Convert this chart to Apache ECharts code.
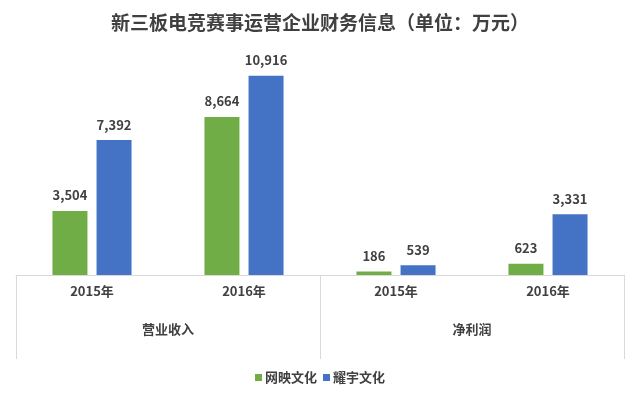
<!DOCTYPE html>
<html>
<head>
<meta charset="utf-8">
<script src="https://cdn.jsdelivr.net/npm/echarts@6/dist/echarts.min.js"></script>
<style>
  html, body { margin: 0; padding: 0; background: #fff; }
  #chart { width: 640px; height: 399px; }
</style>
</head>
<body>
<div id="chart"></div>
<script>
// Financials of NEEQ esports event operators (unit: 10k yuan)
const years = ['2015年', '2016年', '2015年', '2016年'];
const groups = ['营业收入', '净利润'];
const wangying = [3504, 8664, 186, 623];   // 网映文化
const yaoyu = [7392, 10916, 539, 3331];    // 耀宇文化

const GREEN = '#70ad47';
const BLUE = '#4472c4';
const TEXT = '#404040';
const LINE = '#d9d9d9';
const FONT = '"Noto Sans CJK SC", "Noto Sans", sans-serif';

const chart = echarts.init(document.getElementById('chart'));

const barLabel = {
    show: true,
    position: 'top',
    distance: 9,
    color: TEXT,
    fontFamily: FONT,
    fontWeight: 'bold',
    fontSize: 13,
    formatter: p => p.value.toLocaleString('en-US')
};

chart.setOption({
    animation: false,
    title: {
        text: '新三板电竞赛事运营企业财务信息（单位：万元）',
        left: 'center',
        top: 8,
        textStyle: {
            color: TEXT,
            fontFamily: FONT,
            fontWeight: 'bold',
            fontSize: 19
        }
    },
    legend: {
        data: ['网映文化', '耀宇文化'],
        bottom: 10,
        left: 'center',
        icon: 'rect',
        itemWidth: 7,
        itemHeight: 7,
        itemGap: 6,
        textStyle: {
            color: TEXT,
            fontFamily: FONT,
            fontWeight: 'bold',
            fontSize: 13,
            padding: [0, 0, 0, -2]
        }
    },
    grid: {
        left: 16,
        right: 16,
        top: 56,
        bottom: 124
    },
    xAxis: [
        {
            type: 'category',
            data: years,
            axisTick: { show: false },
            axisLine: { lineStyle: { color: LINE } },
            axisLabel: {
                color: TEXT,
                fontFamily: FONT,
                fontWeight: 'bold',
                fontSize: 13,
                margin: 10,
                interval: 0
            }
        },
        {
            type: 'category',
            data: groups,
            position: 'bottom',
            axisLine: { show: false },
            axisTick: {
                show: true,
                length: 84,
                lineStyle: { color: LINE }
            },
            axisLabel: {
                color: TEXT,
                fontFamily: FONT,
                fontWeight: 'bold',
                fontSize: 13,
                margin: 48,
                interval: 0
            }
        }
    ],
    yAxis: {
        type: 'value',
        min: 0,
        max: 12000,
        show: false,
        splitLine: { show: false }
    },
    series: [
        {
            name: '网映文化',
            type: 'bar',
            data: wangying,
            barWidth: 35,
            barGap: '26%',
            itemStyle: { color: GREEN },
            label: barLabel
        },
        {
            name: '耀宇文化',
            type: 'bar',
            data: yaoyu,
            barWidth: 35,
            barGap: '26%',
            itemStyle: { color: BLUE },
            label: barLabel
        }
    ]
});
</script>
</body>
</html>
